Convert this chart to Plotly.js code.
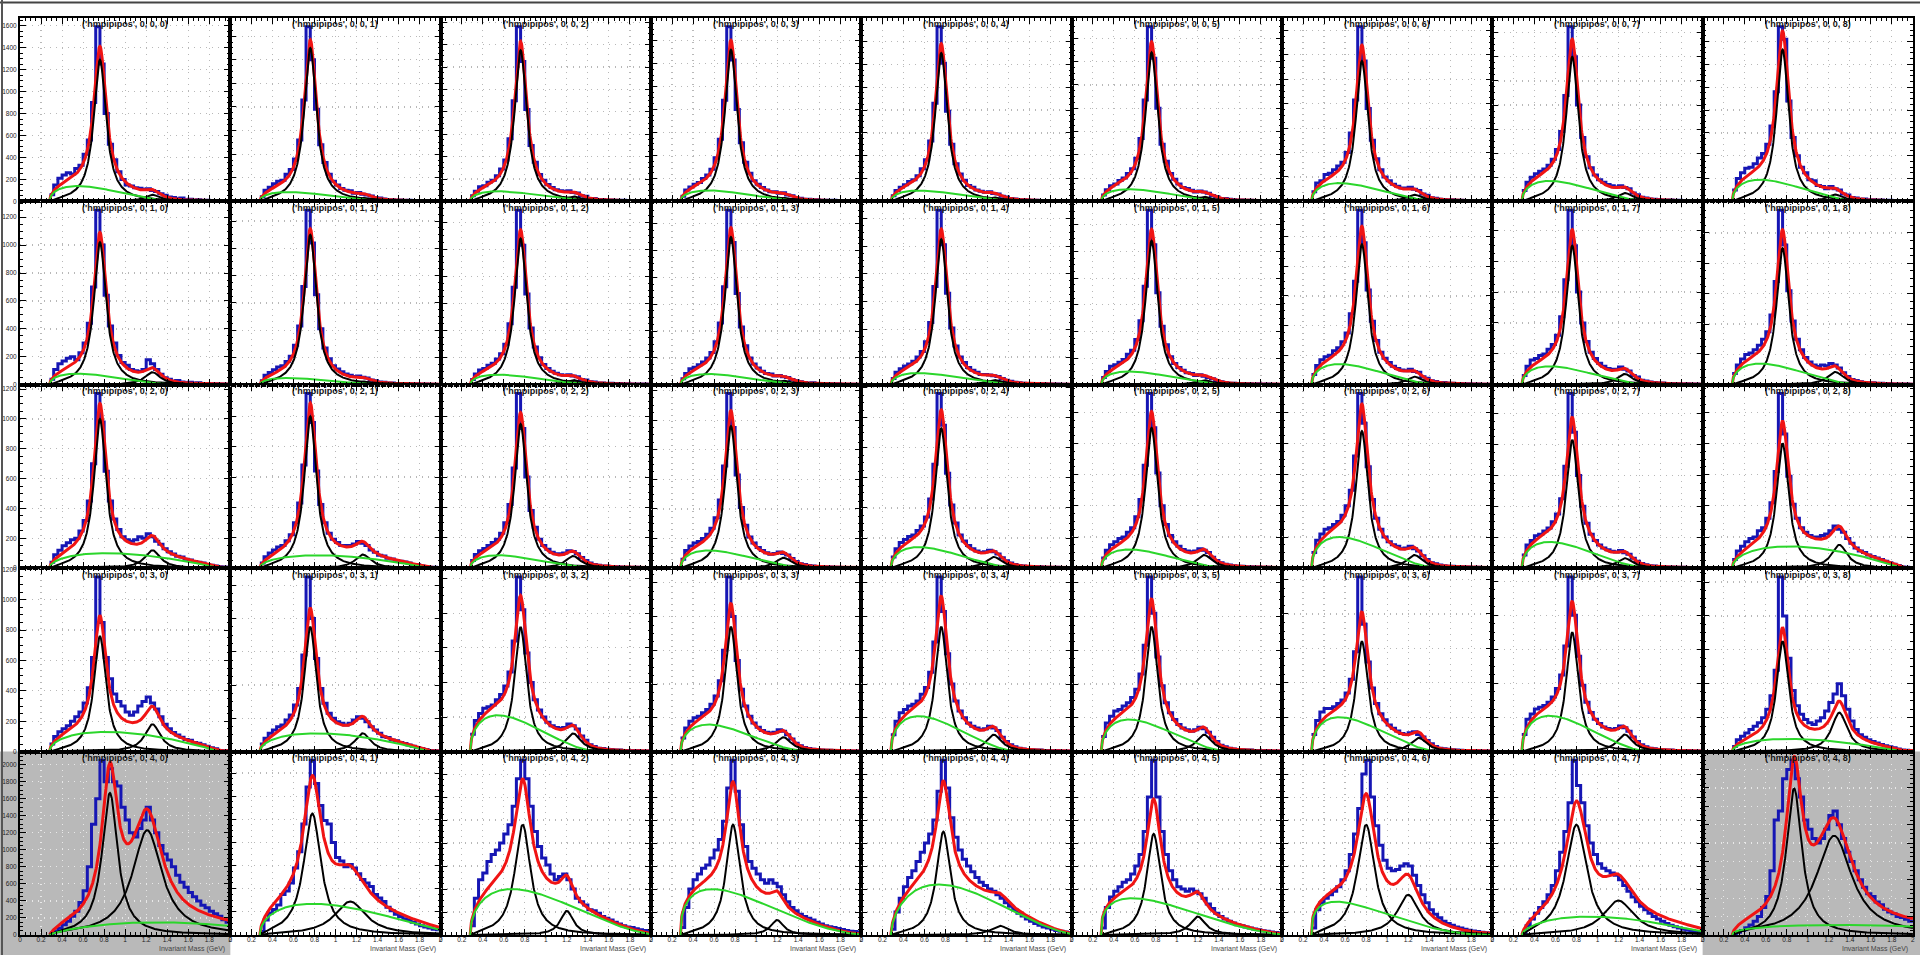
<!DOCTYPE html>
<html><head><meta charset="utf-8">
<script src="https://cdn.plot.ly/plotly-3.0.1.min.js"></script>
<style>html,body{margin:0;padding:0;background:#fff;overflow:hidden}#chart{width:1920px;height:955px}</style>
</head><body><div id="chart"></div>
<script>
// ---- histogram bin edges (GeV) ----
const binEdges = [0.28,0.32,0.36,0.40,0.44,0.48,0.52,0.56,0.60,0.64,0.68,0.72,0.76,0.80,0.84,0.88,0.92,0.96,1.00,1.04,1.08,1.12,1.16,1.20,1.24,1.28,1.32,1.36,1.40,1.44,1.48,1.52,1.56,1.60,1.64,1.68,1.72,1.76,1.80,1.84,1.88,1.92,1.96,2.00];

// ---- x tick labels ----
const xTickVals = [0,0.2,0.4,0.6,0.8,1,1.2,1.4,1.6,1.8,2];
const xTickText = ['0','0.2','0.4','0.6','0.8','1','1.2','1.4','1.6','1.8','2'];

// ---- histogram contents, one array per pad ('hmpipipos', 0, row, col) ----
const hist_0_0_0 = [60,150,210,240,260,250,300,330,430,560,900,1590,1250,800,520,380,270,200,150,140,125,120,110,115,100,90,70,55,40,35,25,30,15,20,10,15,8,10,5,8,5,3,4];
const hist_0_0_1 = [40,95,120,150,170,180,230,270,360,520,860,1480,1200,780,480,330,230,170,140,110,95,90,70,75,60,55,45,30,28,20,15,15,10,12,8,10,6,8,5,6,4,5,3];
const hist_0_0_2 = [50,90,130,140,170,190,230,290,370,560,900,1560,1250,820,500,350,240,190,150,125,105,95,90,95,80,75,50,45,25,25,15,18,10,12,10,8,10,6,5,7,4,6,3];
const hist_0_0_3 = [45,100,125,150,165,200,230,280,380,540,880,1520,1230,800,510,340,245,180,150,120,100,85,85,70,75,55,50,30,28,18,18,12,14,10,10,8,9,6,7,5,6,4,5];
const hist_0_0_4 = [50,95,125,145,175,190,225,285,365,530,860,1530,1210,790,500,330,240,185,140,125,100,90,80,85,70,65,45,38,25,22,15,15,12,10,10,8,8,7,6,6,5,5,4];
const hist_0_0_5 = [55,100,135,150,180,200,240,280,370,540,870,1500,1230,800,490,345,240,190,150,120,110,95,80,90,80,70,50,40,25,25,18,15,10,12,8,10,6,8,5,6,4,5,3];
const hist_0_0_6 = [80,150,170,220,230,260,290,320,400,560,830,1430,1150,760,500,350,260,200,170,140,125,110,110,115,100,90,60,50,30,25,18,15,12,14,9,10,8,7,6,7,5,6,4];
const hist_0_0_7 = [90,160,200,230,250,270,300,350,430,580,880,1450,1200,800,530,370,280,220,180,160,140,130,120,130,115,105,70,55,35,28,20,18,15,12,10,12,8,9,6,7,5,5,4];
const hist_0_0_8 = [100,200,250,290,300,330,380,420,500,660,960,1530,1420,880,560,400,300,250,190,180,140,130,110,130,110,100,65,55,35,30,15,20,12,15,10,12,8,10,5,8,4,6,3];
const hist_0_1_0 = [40,110,150,170,190,200,180,230,300,440,700,1250,1000,640,420,300,210,160,140,110,100,95,110,180,150,110,75,50,40,25,30,20,15,18,12,14,8,10,6,8,5,6,4];
const hist_0_1_1 = [30,70,90,110,130,140,170,210,290,430,720,1280,1040,660,410,270,190,140,115,95,80,70,60,65,55,50,35,30,20,18,12,14,8,10,7,8,5,7,4,5,3,4,3];
const hist_0_1_2 = [40,80,110,120,145,160,190,230,300,450,720,1290,1030,670,420,280,200,150,120,100,85,75,70,75,65,60,40,35,22,20,14,14,10,11,8,9,6,7,5,6,4,5,4];
const hist_0_1_3 = [45,85,120,130,150,170,200,240,320,460,730,1300,1060,680,430,290,200,155,125,100,85,80,65,70,60,55,40,30,22,18,12,15,10,9,8,8,6,7,5,5,4,4,3];
const hist_0_1_4 = [45,90,115,135,150,170,200,240,310,450,710,1260,1010,660,410,280,200,160,125,105,90,75,75,70,65,60,45,32,25,18,15,12,10,10,8,7,7,6,5,6,4,4,3];
const hist_0_1_5 = [55,100,140,150,170,190,230,260,340,480,740,1310,1050,690,440,300,210,160,130,110,90,85,70,75,65,55,45,30,22,18,12,12,9,10,7,8,5,7,5,6,4,5,3];
const hist_0_1_6 = [70,130,170,190,200,230,250,290,350,480,700,1180,960,640,430,300,220,180,150,125,110,100,95,105,90,85,55,45,28,22,15,15,10,11,8,9,6,7,5,6,4,4,3];
const hist_0_1_7 = [60,120,160,170,190,200,230,260,320,440,680,1130,900,600,400,280,210,170,140,120,105,100,100,115,100,90,60,50,30,25,18,15,12,11,8,9,6,7,5,6,4,5,3];
const hist_0_1_8 = [75,130,170,200,210,230,260,300,350,460,680,1150,920,620,420,300,230,180,150,130,120,130,125,140,130,110,80,55,35,28,20,15,12,13,9,10,7,8,5,6,4,5,3];
const hist_0_2_0 = [40,90,120,150,170,190,200,250,320,450,700,1170,980,650,450,330,260,210,190,180,190,210,200,230,210,180,160,130,110,95,80,75,60,55,45,40,35,25,20,15,10,8,6];
const hist_0_2_1 = [35,75,100,120,140,150,180,220,300,430,680,1150,960,640,420,300,230,190,170,150,150,150,160,175,165,150,120,105,85,80,65,60,50,45,40,35,25,22,15,12,6,6,4];
const hist_0_2_2 = [50,90,115,130,150,170,190,230,300,420,660,1150,920,600,380,270,190,150,125,105,95,95,100,115,110,95,70,50,35,25,20,15,14,12,10,8,7,6,5,6,4,4,3];
const hist_0_2_3 = [60,120,150,170,180,200,230,270,340,460,690,1180,950,630,410,290,210,170,140,120,105,95,100,110,100,90,65,45,30,25,18,15,12,10,8,8,6,7,5,5,4,4,3];
const hist_0_2_4 = [75,130,170,190,210,220,250,280,340,460,690,1160,950,630,420,300,220,180,150,130,115,105,110,120,110,95,70,50,35,25,18,15,12,12,9,9,7,7,5,6,4,4,3];
const hist_0_2_5 = [65,115,150,170,190,200,230,260,330,440,660,1120,900,610,400,280,210,170,140,120,110,105,110,125,115,100,70,50,35,25,20,15,12,12,9,9,7,7,5,6,4,5,3];
const hist_0_2_6 = [100,180,220,250,260,280,300,340,400,500,720,1120,930,650,440,320,250,200,170,150,140,125,130,140,125,110,80,55,35,28,20,15,12,12,9,9,7,7,5,6,4,5,3];
const hist_0_2_7 = [85,150,180,210,220,240,260,300,350,450,660,1130,880,600,400,290,220,180,150,130,120,110,105,115,100,90,65,45,30,22,16,14,11,10,8,8,6,6,6,4,4,4,3];
const hist_0_2_8 = [55,110,140,170,190,200,240,260,320,420,620,1120,860,590,410,320,260,230,210,200,200,210,220,240,270,250,230,190,160,130,110,100,85,75,65,55,45,35,25,18,8,6,5];
const hist_0_3_0 = [50,100,130,150,170,200,230,260,320,420,620,1150,850,620,480,380,330,300,260,240,260,300,330,360,320,280,230,180,150,125,110,95,80,75,60,55,45,35,25,18,8,6,5];
const hist_0_3_1 = [45,80,110,130,150,160,190,220,280,380,580,1050,800,560,380,290,230,200,180,170,160,170,190,210,200,180,150,130,110,90,85,70,65,55,48,40,32,25,18,12,6,5,4];
const hist_0_3_2 = [100,180,220,250,260,270,300,330,380,460,640,1010,820,570,400,300,240,200,170,150,140,135,140,160,150,130,90,65,40,30,20,18,14,12,9,9,7,7,5,6,4,4,3];
const hist_0_3_3 = [80,140,180,200,210,230,250,280,330,420,600,1035,800,540,370,270,210,170,145,125,115,110,115,130,120,100,75,50,35,25,18,14,12,10,8,8,6,6,5,5,4,4,3];
const hist_0_3_4 = [100,180,230,250,270,280,300,340,380,470,650,1035,830,580,400,300,240,200,170,150,140,130,135,150,140,125,85,60,40,28,20,16,12,11,9,9,7,7,5,6,4,4,3];
const hist_0_3_5 = [90,170,210,240,250,270,290,320,370,460,630,1035,820,560,390,290,230,190,160,140,130,120,130,145,135,115,85,60,38,28,20,15,12,11,9,9,7,7,5,6,4,4,3];
const hist_0_3_6 = [100,180,230,250,250,260,280,300,340,420,580,1015,740,520,370,280,220,185,155,135,120,105,100,110,115,100,85,65,45,30,20,16,13,11,9,8,7,6,5,5,4,4,3];
const hist_0_3_7 = [100,190,220,250,260,270,290,320,370,450,620,1025,800,560,390,290,230,190,165,145,135,130,135,150,140,120,85,60,40,28,20,16,12,11,9,9,7,7,5,6,4,4,3];
const hist_0_3_8 = [30,70,90,110,130,150,170,200,250,330,480,1030,800,550,360,270,220,190,170,160,180,200,240,290,340,400,330,250,180,130,100,85,70,60,50,42,35,28,22,15,10,8,6];
const hist_0_4_0 = [20,40,80,120,160,220,280,380,520,800,1300,1600,2050,1800,1950,1800,1750,1500,1350,1200,1150,1250,1350,1500,1350,1200,1050,950,880,800,700,620,560,500,450,400,350,320,280,250,220,180,150];
const hist_0_4_1 = [30,130,190,220,260,350,380,450,580,720,960,1280,1510,1310,1120,990,960,800,670,640,590,610,580,530,480,450,420,350,320,290,240,210,180,160,140,130,110,95,80,70,60,50,45];
const hist_0_4_2 = [80,320,480,540,640,700,740,800,880,960,1120,1360,1520,1360,1120,900,770,670,610,530,480,510,530,480,400,320,290,260,220,210,190,160,145,130,110,95,80,70,65,55,45,40,30];
const hist_0_4_3 = [65,240,400,480,530,580,610,670,740,830,990,1280,1520,1250,960,770,640,580,530,480,450,480,450,420,350,290,240,210,180,160,145,130,110,95,80,72,65,56,48,40,32,30,24];
const hist_0_4_4 = [50,200,320,420,500,560,640,720,800,880,1000,1250,1520,1280,1020,850,740,660,600,550,500,460,430,400,380,350,320,280,250,220,190,165,140,120,100,85,70,60,50,40,32,26,20];
const hist_0_4_5 = [60,240,330,380,420,460,480,530,600,700,900,1200,1520,1200,900,700,560,480,420,400,380,400,380,360,320,270,230,190,160,140,120,105,90,80,70,60,52,45,38,32,26,22,18];
const hist_0_4_6 = [60,220,280,320,350,380,420,480,560,700,880,1100,1400,1520,1200,950,780,650,580,560,570,600,620,600,520,430,350,280,220,180,150,120,100,85,70,60,50,42,35,30,25,20,16];
const hist_0_4_7 = [20,80,140,190,240,290,350,430,560,720,900,1150,1520,1300,1150,950,800,700,620,580,560,540,520,480,430,380,330,290,250,220,190,160,140,120,100,85,72,60,50,42,35,28,22];
const hist_0_4_8 = [10,30,50,80,110,150,200,300,420,700,1250,1350,1700,1800,1900,1700,1500,1250,1150,1050,1000,1050,1150,1300,1350,1200,1050,900,800,700,600,520,450,420,360,330,280,250,230,200,190,170,150];

const histograms = [
  hist_0_0_0,hist_0_0_1,hist_0_0_2,hist_0_0_3,hist_0_0_4,hist_0_0_5,hist_0_0_6,hist_0_0_7,hist_0_0_8,
  hist_0_1_0,hist_0_1_1,hist_0_1_2,hist_0_1_3,hist_0_1_4,hist_0_1_5,hist_0_1_6,hist_0_1_7,hist_0_1_8,
  hist_0_2_0,hist_0_2_1,hist_0_2_2,hist_0_2_3,hist_0_2_4,hist_0_2_5,hist_0_2_6,hist_0_2_7,hist_0_2_8,
  hist_0_3_0,hist_0_3_1,hist_0_3_2,hist_0_3_3,hist_0_3_4,hist_0_3_5,hist_0_3_6,hist_0_3_7,hist_0_3_8,
  hist_0_4_0,hist_0_4_1,hist_0_4_2,hist_0_4_3,hist_0_4_4,hist_0_4_5,hist_0_4_6,hist_0_4_7,hist_0_4_8];

// ---- fitted parameters per pad (row-major) ----
const peak1Height = [1290,1300,1350,1320,1300,1280,1150,1200,1330,
                     1020,1100,1080,1100,1050,1080,950,900,900,
                     1000,1000,950,960,930,900,880,830,800,
                     760,750,720,740,740,740,640,700,650,
                     1667,1050,960,960,900,880,960,960,1594];
const peak1Mass   = [0.76,0.76,0.76,0.76,0.76,0.76,0.76,0.76,0.76,
                     0.76,0.76,0.76,0.76,0.76,0.76,0.76,0.76,0.76,
                     0.76,0.76,0.76,0.76,0.76,0.76,0.76,0.76,0.76,
                     0.76,0.76,0.76,0.76,0.76,0.76,0.76,0.76,0.76,
                     0.855,0.78,0.78,0.78,0.78,0.78,0.80,0.80,0.87];
const peak1Width  = [0.14,0.14,0.14,0.14,0.14,0.14,0.14,0.14,0.14,
                     0.14,0.14,0.14,0.14,0.14,0.14,0.14,0.14,0.14,
                     0.14,0.14,0.14,0.14,0.14,0.14,0.14,0.14,0.14,
                     0.14,0.14,0.14,0.14,0.14,0.14,0.14,0.14,0.14,
                     0.18,0.20,0.18,0.16,0.16,0.16,0.20,0.24,0.18];
const peak2Height = [60,30,45,30,35,40,55,70,60,
                     90,25,35,30,35,35,55,70,85,
                     120,90,80,70,75,85,85,65,150,
                     180,110,105,85,100,100,80,100,230,
                     1230,290,210,130,80,160,350,300,1080];
const peak2Mass   = [1.26,1.26,1.26,1.26,1.26,1.26,1.26,1.26,1.26,
                     1.26,1.26,1.26,1.26,1.26,1.26,1.26,1.26,1.26,
                     1.26,1.26,1.26,1.26,1.26,1.26,1.26,1.26,1.30,
                     1.26,1.26,1.26,1.26,1.26,1.26,1.30,1.26,1.30,
                     1.21,1.14,1.20,1.20,1.32,1.20,1.20,1.20,1.25];
const peak2Width  = [0.18,0.18,0.18,0.18,0.18,0.18,0.18,0.18,0.18,
                     0.18,0.18,0.18,0.18,0.18,0.18,0.18,0.18,0.18,
                     0.18,0.18,0.18,0.18,0.18,0.18,0.18,0.18,0.18,
                     0.18,0.18,0.18,0.18,0.18,0.18,0.18,0.18,0.18,
                     0.34,0.36,0.15,0.15,0.20,0.18,0.25,0.35,0.41];
const bgHeight    = [140,80,90,95,95,105,150,170,190,
                     80,50,75,80,85,100,140,120,140,
                     100,85,85,120,140,120,200,170,140,
                     130,110,210,160,210,190,200,210,75,
                     150,270,400,400,440,320,290,160,110];
const bgRise      = [0.5,0.5,0.5,0.5,0.5,0.5,0.5,0.5,0.5,
                     0.5,0.5,0.5,0.5,0.5,0.5,0.5,0.5,0.5,
                     0.5,0.5,0.5,0.5,0.5,0.5,0.5,0.5,0.5,
                     0.5,0.5,0.5,0.5,0.5,0.5,0.5,0.5,0.5,
                     0.8,0.5,0.5,0.4,0.6,0.35,0.35,0.6,0.4];
const bgFall      = [1.8,1.8,1.8,1.8,1.8,1.8,1.8,1.8,1.8,
                     1.8,1.8,1.8,1.8,1.8,1.8,1.8,1.8,1.8,
                     1.0,1.0,1.8,1.8,1.8,1.8,1.8,1.8,1.0,
                     1.0,1.0,1.8,1.8,1.8,1.8,1.8,1.8,1.0,
                     1.0,1.5,1.8,2.0,1.8,1.8,2.2,1.2,0.6];
const bgEnd       = [1.5,1.5,1.5,1.5,1.5,1.5,1.5,1.5,1.5,
                     1.5,1.5,1.5,1.5,1.5,1.5,1.5,1.5,1.5,
                     1.9,1.9,1.5,1.5,1.5,1.5,1.5,1.5,1.9,
                     1.9,1.9,1.5,1.5,1.5,1.5,1.5,1.5,1.9,
                     2.6,2.3,2.1,2.1,2.1,2.1,2.0,2.2,2.8];
const grayPads = [36, 44];
const xTitle = 'Invariant Mass (GeV)';
const histName = 'hmpipipos';

// ---- fit model ----
const threshold = 0.28;
function breitWigner(x, A, m, g) {
  if (x <= threshold) return 0;
  const t = 1 - Math.exp(-(x - threshold) / 0.06);
  const u = (x - m) / (g / 2);
  return A * t / (1 + u * u);
}
function background(x, B, a, b, xe) {
  const s = (x - threshold) / (xe - threshold);
  if (s <= 0 || s >= 1) return 0;
  const s0 = a / (a + b);
  return B * Math.pow(s, a) * Math.pow(1 - s, b) / (Math.pow(s0, a) * Math.pow(1 - s0, b));
}

// ---- layout geometry (pixels) ----
const W = 1920, H = 955;
const left0 = 20, top0 = 18, padW = 210.33, padH = 183.4;
const nCols = 9, nRows = 5;

const fitX = [];
for (let x = threshold; x <= 2.0001; x += 0.004) fitX.push(+x.toFixed(4));

const data = [];
const layout = {
  width: W, height: H, margin: {l: 0, r: 0, t: 0, b: 0},
  paper_bgcolor: '#ffffff', plot_bgcolor: 'rgba(0,0,0,0)',
  showlegend: false, shapes: [], annotations: [],
  font: {family: 'Liberation Sans, Arial, sans-serif'}
};

grayPads.forEach(k => {
  const c = k % nCols;
  const x0 = c === 0 ? 0 : (left0 + c * padW) / W;
  const x1 = c === nCols - 1 ? 1 : (left0 + (c + 1) * padW) / W;
  layout.shapes.push({type: 'rect', xref: 'paper', yref: 'paper', x0: x0, x1: x1,
    y0: 0, y1: 1 - (top0 + 4 * padH) / H, fillcolor: '#b9b9b9', line: {width: 0}, layer: 'below'});
});
layout.shapes.push({type: 'line', xref: 'paper', yref: 'paper', x0: 0, x1: 1, y0: 1 - 2.5 / H, y1: 1 - 2.5 / H, line: {color: '#444', width: 2}});
layout.shapes.push({type: 'line', xref: 'paper', yref: 'paper', x0: 2 / W, x1: 2 / W, y0: 0, y1: 1, line: {color: '#555', width: 2}});

for (let k = 0; k < nRows * nCols; k++) {
  const r = Math.floor(k / nCols), c = k % nCols;
  const id = k === 0 ? '' : String(k + 1);
  const xa = 'x' + id, ya = 'y' + id;
  const h = histograms[k];
  const gray = grayPads.includes(k);
  const ymax = Math.max(...h) * 1.05;

  data.push({type: 'scatter', mode: 'lines', x: binEdges, y: h.concat([h[h.length - 1]]),
    line: {shape: 'hv', color: '#1616b4', width: 3}, xaxis: xa, yaxis: ya, hoverinfo: 'skip'});

  const p1 = fitX.map(x => breitWigner(x, peak1Height[k], peak1Mass[k], peak1Width[k]));
  const p2 = fitX.map(x => breitWigner(x, peak2Height[k], peak2Mass[k], peak2Width[k]));
  const bgX = fitX.filter(x => x <= Math.min(bgEnd[k], 2.0));
  const bgY = bgX.map(x => background(x, bgHeight[k], bgRise[k], bgFall[k], bgEnd[k]));
  const tot = fitX.map((x, i) => p1[i] + p2[i] + background(x, bgHeight[k], bgRise[k], bgFall[k], bgEnd[k]));

  data.push({type: 'scatter', mode: 'lines', x: fitX, y: tot, line: {color: '#f01414', width: 3}, xaxis: xa, yaxis: ya, hoverinfo: 'skip'});
  data.push({type: 'scatter', mode: 'lines', x: fitX, y: p1, line: {color: '#000000', width: 2}, xaxis: xa, yaxis: ya, hoverinfo: 'skip'});
  data.push({type: 'scatter', mode: 'lines', x: fitX, y: p2, line: {color: '#000000', width: 2}, xaxis: xa, yaxis: ya, hoverinfo: 'skip'});
  data.push({type: 'scatter', mode: 'lines', x: bgX, y: bgY, line: {color: '#2bd62b', width: 2}, xaxis: xa, yaxis: ya, hoverinfo: 'skip'});

  const gridColor = gray ? '#e8e8e8' : '#b8b8b8';
  const common = {
    showline: true, linecolor: '#000', linewidth: 2, mirror: 'ticks',
    ticks: 'inside', ticklen: 6, tickwidth: 1, tickcolor: '#000',
    showgrid: true, gridcolor: gridColor, griddash: '1px,5px', gridwidth: 1.2,
    zeroline: false, automargin: false, fixedrange: true, ticklabeloverflow: 'allow',
    tickfont: {size: 6.5, color: '#222', family: 'Liberation Sans, Arial, sans-serif'}
  };
  layout['xaxis' + id] = Object.assign({}, common, {
    domain: [(left0 + c * padW) / W, (left0 + (c + 1) * padW) / W],
    range: [-0.0005, 2.0005], anchor: ya, tickmode: 'array', tickvals: xTickVals, ticktext: xTickText,
    showticklabels: r === nRows - 1, ticklabelstandoff: -3,
    minor: {ticks: 'inside', ticklen: 3, dtick: 0.05, tick0: 0, tickcolor: '#000', showgrid: false}
  });
  layout['yaxis' + id] = Object.assign({}, common, {
    domain: [1 - (top0 + (r + 1) * padH) / H, 1 - (top0 + r * padH) / H],
    range: [0, ymax], anchor: xa, tick0: 0, dtick: 200, showticklabels: c === 0,
    minor: {ticks: 'inside', ticklen: 3, dtick: 50, tick0: 0, tickcolor: '#000', showgrid: false}
  });

  layout.annotations.push({xref: xa + ' domain', yref: ya + ' domain', x: 0.5, y: 0.965,
    xanchor: 'center', yanchor: 'middle', showarrow: false,
    text: "('" + histName + "', 0, " + r + ", " + c + ")",
    font: {size: 9, color: '#111', family: 'Liberation Sans, Arial, sans-serif', weight: 'bold'}});
  if (r === nRows - 1) {
    layout.annotations.push({xref: xa + ' domain', yref: 'paper', x: 0.985, y: (H - 949) / H,
      xanchor: 'right', yanchor: 'middle', showarrow: false, text: xTitle,
      font: {size: 7, color: '#444', family: 'Liberation Sans, Arial, sans-serif'}});
  }
}

Plotly.newPlot('chart', data, layout, {staticPlot: true, displayModeBar: false});
</script>
</body></html>
